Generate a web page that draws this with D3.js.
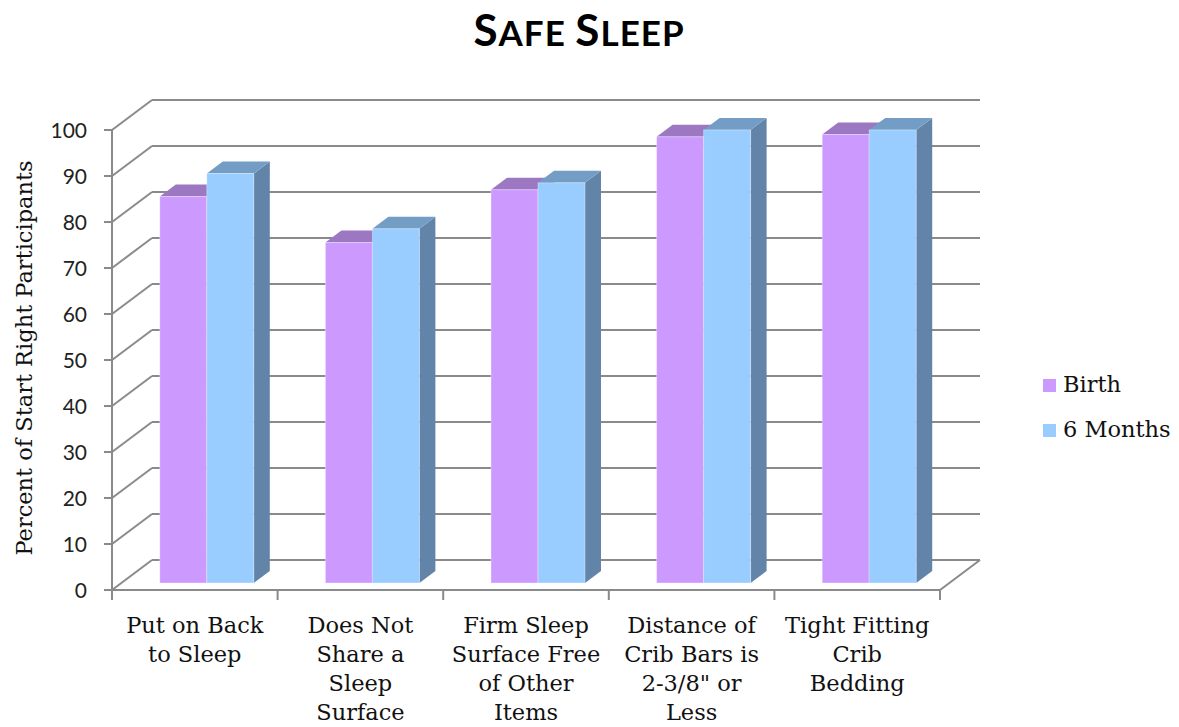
<!DOCTYPE html>
<html>
<head>
<meta charset="utf-8">
<script src="https://cdn.jsdelivr.net/npm/d3@7"></script>
<style>
  html, body { margin: 0; padding: 0; background: #ffffff; }
  svg { display: block; }
</style>
</head>
<body>
<div id="chart"></div>
<script>
// Category labels (one entry per line of the wrapped label)
const categories = [
  "Put on Back to Sleep",
  "Does Not Share a Sleep Surface",
  "Firm Sleep Surface Free of Other Items",
  "Distance of Crib Bars is 2-3/8\" or Less",
  "Tight Fitting Crib Bedding"
];
const categoryLines = [
  ["Put on Back", "to Sleep"],
  ["Does Not", "Share a", "Sleep", "Surface"],
  ["Firm Sleep", "Surface Free", "of Other", "Items"],
  ["Distance of", "Crib Bars is", "2-3/8\" or", "Less"],
  ["Tight Fitting", "Crib", "Bedding"]
];
const seriesNames = ["Birth", "6 Months"];
const birthValues = [84, 74, 85.5, 97, 97.5];
const sixMonthValues = [89, 77, 87, 98.5, 98.5];
const yTickValues = [0, 10, 20, 30, 40, 50, 60, 70, 80, 90, 100];

const W = 1179, H = 727;
const svg = d3.select("#chart").append("svg").attr("width", W).attr("height", H);

// Oblique projection offsets
const wall = { dx: 40, dy: -30 };      // front plane -> back wall
const barFront = { dx: 12, dy: -7 };   // front plane -> bar front face
const barDepth = { dx: 16, dy: -12 };  // bar thickness

const x = d3.scaleBand().domain(categories).range([112, 940]);
const y = d3.scaleLinear().domain([0, 100]).range([590, 130]);
const xs = d3.scaleBand().domain(seriesNames).range([0, 94]);

const gridColor = "#8a8a8a";
const axisColor = "#8a8a8a";
const colors = {
  "Birth": { front: "#cc99ff", top: "#9c78c2", side: "#8a68ad" },
  "6 Months": { front: "#99ccff", top: "#749dc6", side: "#6284a8" }
};

// Back wall gridlines
const grid = svg.append("g");
grid.selectAll("line.back").data(yTickValues).join("line")
  .attr("x1", 112 + wall.dx).attr("x2", 940 + wall.dx)
  .attr("y1", d => y(d) + wall.dy).attr("y2", d => y(d) + wall.dy)
  .attr("stroke", gridColor).attr("stroke-width", 2);
// Side wall gridlines (diagonals from the value axis to the back wall)
grid.selectAll("line.side").data(yTickValues).join("line")
  .attr("x1", 112).attr("x2", 112 + wall.dx)
  .attr("y1", d => y(d)).attr("y2", d => y(d) + wall.dy)
  .attr("stroke", gridColor).attr("stroke-width", 2);
// Floor: front edge and right diagonal
grid.append("line")
  .attr("x1", 112).attr("x2", 940).attr("y1", y(0)).attr("y2", y(0))
  .attr("stroke", axisColor).attr("stroke-width", 2);
grid.append("line")
  .attr("x1", 940).attr("x2", 940 + wall.dx).attr("y1", y(0)).attr("y2", y(0) + wall.dy)
  .attr("stroke", gridColor).attr("stroke-width", 2);

// Value axis
const yAxis = svg.append("g");
yAxis.append("line")
  .attr("x1", 112).attr("x2", 112).attr("y1", y(100)).attr("y2", y(0) + 1)
  .attr("stroke", axisColor).attr("stroke-width", 2);
yAxis.selectAll("line.tick").data(yTickValues).join("line")
  .attr("x1", 104).attr("x2", 112).attr("y1", d => y(d)).attr("y2", d => y(d))
  .attr("stroke", axisColor).attr("stroke-width", 2);
yAxis.selectAll("text").data(yTickValues).join("text")
  .attr("x", 87).attr("y", d => y(d) + 8)
  .attr("text-anchor", "end")
  .attr("font-family", "Lato, 'Open Sans', sans-serif")
  .attr("font-size", 21).attr("fill", "#222")
  .text(d => d);

// Category axis ticks
const cats = svg.append("g");
const tickXs = categories.map(c => x(c)).concat([x.range()[1]]);
cats.selectAll("line").data(tickXs).join("line")
  .attr("x1", d => d).attr("x2", d => d).attr("y1", y(0)).attr("y2", y(0) + 10)
  .attr("stroke", axisColor).attr("stroke-width", 2);

// Category labels
categories.forEach((c, i) => {
  const t = cats.append("text")
    .attr("text-anchor", "middle")
    .attr("font-family", "'DejaVu Serif', serif")
    .attr("font-size", 22.5).attr("fill", "#111");
  categoryLines[i].forEach((line, j) => {
    t.append("tspan")
      .attr("x", x(c) + x.bandwidth() / 2)
      .attr("y", 633 + j * 29)
      .text(line);
  });
});

// Bars
const seriesData = [birthValues, sixMonthValues];
const bars = svg.append("g");
categories.forEach((c, i) => {
  const pairStart = x(c) + x.bandwidth() / 2 - xs.range()[1] / 2 + barFront.dx;
  seriesNames.forEach((s, k) => {
    const v = seriesData[k][i];
    const x0 = pairStart + xs(s);
    const w = xs.bandwidth();
    const yTop = y(v) + barFront.dy;
    const yBot = y(0) + barFront.dy;
    const col = colors[s];
    const g = bars.append("g");
    // side face
    g.append("polygon")
      .attr("points", [
        [x0 + w, yTop], [x0 + w + barDepth.dx, yTop + barDepth.dy],
        [x0 + w + barDepth.dx, yBot + barDepth.dy], [x0 + w, yBot]
      ].map(p => p.join(",")).join(" "))
      .attr("fill", col.side);
    // top face
    g.append("polygon")
      .attr("points", [
        [x0, yTop], [x0 + w, yTop],
        [x0 + w + barDepth.dx, yTop + barDepth.dy], [x0 + barDepth.dx, yTop + barDepth.dy]
      ].map(p => p.join(",")).join(" "))
      .attr("fill", col.top);
    // front face
    g.append("rect")
      .attr("x", x0).attr("y", yTop).attr("width", w).attr("height", yBot - yTop)
      .attr("fill", col.front)
      .attr("stroke", "rgba(255,255,255,0.35)").attr("stroke-width", 1);
  });
});

// Value axis title
svg.append("text")
  .attr("transform", "translate(32,358) rotate(-90)")
  .attr("text-anchor", "middle")
  .attr("font-family", "'DejaVu Serif', serif")
  .attr("font-size", 22.5).attr("fill", "#111")
  .text("Percent of Start Right Participants");

// Chart title in small caps
const title = svg.append("text")
  .attr("x", 579).attr("y", 46)
  .attr("text-anchor", "middle")
  .attr("font-family", "Lato, 'Open Sans', sans-serif")
  .attr("font-weight", 700).attr("fill", "#000")
  .attr("letter-spacing", 1);
[["S", 44], ["AFE", 35], [" ", 35], ["S", 44], ["LEEP", 35]].forEach(([t, fs]) => {
  title.append("tspan").attr("font-size", fs).text(t);
});

// Legend
const legend = svg.append("g");
seriesNames.forEach((s, k) => {
  const ly = 379 + k * 45;
  legend.append("rect")
    .attr("x", 1043).attr("y", ly).attr("width", 13).attr("height", 13)
    .attr("fill", colors[s].front);
  legend.append("text")
    .attr("x", 1063).attr("y", ly + 13)
    .attr("font-family", "'DejaVu Serif', serif")
    .attr("font-size", 22.5).attr("fill", "#111")
    .text(s);
});
</script>
</body>
</html>
